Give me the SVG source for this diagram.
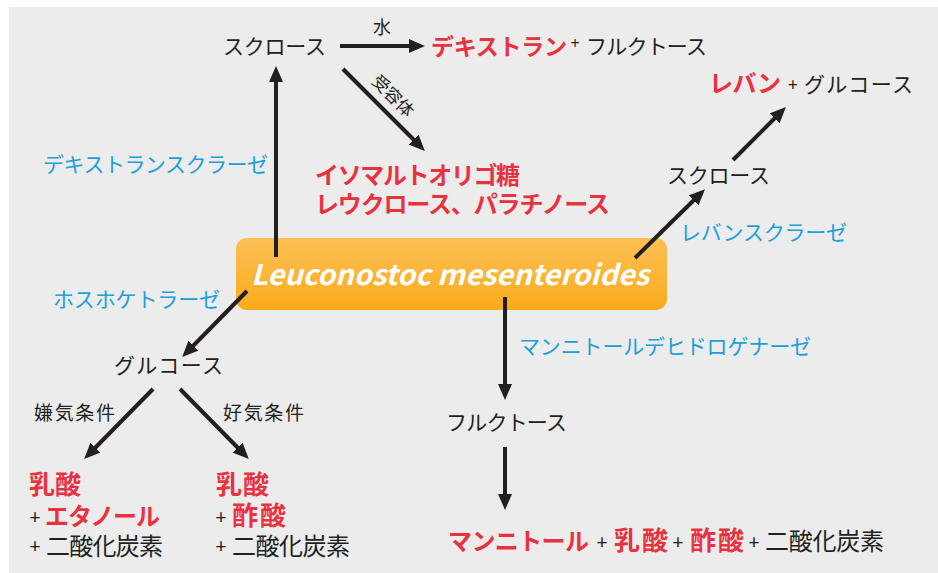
<svg xmlns="http://www.w3.org/2000/svg" width="938" height="573" viewBox="0 0 938 573">
<defs>
<linearGradient id="og" x1="0" y1="0" x2="0" y2="1">
<stop offset="0" stop-color="#fdbf55"/>
<stop offset="1" stop-color="#f9ab1c"/>
</linearGradient>
<marker id="ah" markerWidth="17" markerHeight="14" refX="2" refY="7" orient="auto" markerUnits="userSpaceOnUse">
<path d="M0,0 L16,7 L0,14 z" fill="#231f20"/>
</marker>
<style>
text{font-family:"Noto Sans CJK JP","Noto Sans",sans-serif;}
.k{fill:#231f20;font-size:21px;}
.r{fill:#e8323f;font-size:24px;font-weight:bold;}
.rb{fill:#e8323f;font-size:26px;font-weight:bold;}
.kb{fill:#231f20;font-size:24px;}
.b{fill:#1d9fd9;font-size:21px;}
.p{fill:#231f20;font-size:20px;font-family:"Noto Sans",sans-serif;}
.s{fill:#231f20;font-size:19px;}
.a{stroke:#231f20;stroke-width:4;fill:none;marker-end:url(#ah);}
</style>
</defs>
<rect x="0" y="0" width="938" height="573" fill="#ffffff"/>
<rect x="9" y="7" width="929" height="566" fill="#ececec"/>

<g id="organism">
<rect x="236" y="238" width="431" height="72" rx="11" fill="url(#og)"/>
<text x="251" y="285" fill="#ffffff" font-family="'Open Sans',sans-serif" font-style="italic" font-weight="600" font-size="28" textLength="398" lengthAdjust="spacingAndGlyphs">Leuconostoc mesenteroides</text>
</g>

<g id="connectors">
<line class="a" x1="340" y1="46" x2="411" y2="46"/>
<line class="a" x1="343" y1="69" x2="415" y2="141"/>
<line class="a" x1="276" y1="257" x2="276" y2="80"/>
<line class="a" x1="635" y1="258" x2="695" y2="199"/>
<line class="a" x1="733" y1="160" x2="776" y2="117"/>
<line class="a" x1="247" y1="291" x2="192" y2="347"/>
<line class="a" x1="153" y1="389" x2="94" y2="449"/>
<line class="a" x1="180" y1="389" x2="239" y2="449"/>
<line class="a" x1="505" y1="297" x2="505" y2="386"/>
<line class="a" x1="505" y1="447" x2="505" y2="496"/>
</g>

<g id="sucrose-top">
<text class="k" x="223" y="54" textLength="103">スクロース</text>
</g>
<g id="label-water">
<text class="s" x="373" y="34" style="font-size:18px">水</text>
</g>
<g id="label-acceptor">
<text class="s" x="393" y="102" text-anchor="middle" style="font-size:17px" transform="rotate(45 393 96)">受容体</text>
</g>
<g id="dextran">
<text class="r" x="431" y="55" style="font-size:23px" textLength="136">デキストラン</text>
<text class="p" x="575" y="49" text-anchor="middle" style="font-size:16px">+</text>
<text class="k" x="586" y="54" textLength="121">フルクトース</text>
</g>
<g id="isomalto">
<text class="r" x="315" y="184" textLength="205">イソマルトオリゴ糖</text>
<text class="r" x="315" y="213" textLength="295">レウクロース、パラチノース</text>
</g>
<g id="enzyme-dextransucrase">
<text class="b" x="43" y="172" textLength="225">デキストランスクラーゼ</text>
</g>
<g id="sucrose-right">
<text class="k" x="667" y="183" textLength="103">スクロース</text>
</g>
<g id="levan">
<text class="r" x="709" y="92" textLength="72">レバン</text>
<text class="p" x="793" y="91" text-anchor="middle" style="font-size:18px">+</text>
<text class="k" x="804" y="92" textLength="109">グルコース</text>
</g>
<g id="enzyme-levansucrase">
<text class="b" x="680" y="240" textLength="167">レバンスクラーゼ</text>
</g>
<g id="enzyme-phosphoketolase">
<text class="b" x="53" y="307" textLength="167">ホスホケトラーゼ</text>
</g>
<g id="glucose">
<text class="k" x="114" y="373" textLength="109">グルコース</text>
</g>
<g id="cond-anaerobic">
<text class="s" x="34" y="420" textLength="81">嫌気条件</text>
</g>
<g id="cond-aerobic">
<text class="s" x="223" y="420" textLength="81">好気条件</text>
</g>
<g id="products-anaerobic">
<text class="rb" x="29" y="494" textLength="52">乳酸</text>
<text class="p" x="35" y="524" text-anchor="middle">+</text>
<text class="r" x="45" y="525" textLength="115">エタノール</text>
<text class="p" x="35" y="553" text-anchor="middle">+</text>
<text class="kb" x="46" y="555" textLength="117">二酸化炭素</text>
</g>
<g id="products-aerobic">
<text class="rb" x="216" y="494" textLength="53">乳酸</text>
<text class="p" x="221" y="524" text-anchor="middle">+</text>
<text class="rb" x="232" y="525" textLength="54">酢酸</text>
<text class="p" x="221" y="553" text-anchor="middle">+</text>
<text class="kb" x="232" y="555" textLength="118">二酸化炭素</text>
</g>
<g id="enzyme-mannitol-dh">
<text class="b" x="519" y="354" textLength="292">マンニトールデヒドロゲナーゼ</text>
</g>
<g id="fructose">
<text class="k" x="446" y="430" textLength="121">フルクトース</text>
</g>
<g id="products-mannitol">
<text class="r" x="448" y="550" textLength="141">マンニトール</text>
<text class="p" x="602" y="549" text-anchor="middle">+</text>
<text class="rb" x="614" y="550" textLength="54">乳酸</text>
<text class="p" x="678" y="549" text-anchor="middle">+</text>
<text class="rb" x="690" y="550" textLength="54">酢酸</text>
<text class="p" x="754" y="549" text-anchor="middle">+</text>
<text class="kb" x="765" y="550" textLength="119">二酸化炭素</text>
</g>
</svg>
